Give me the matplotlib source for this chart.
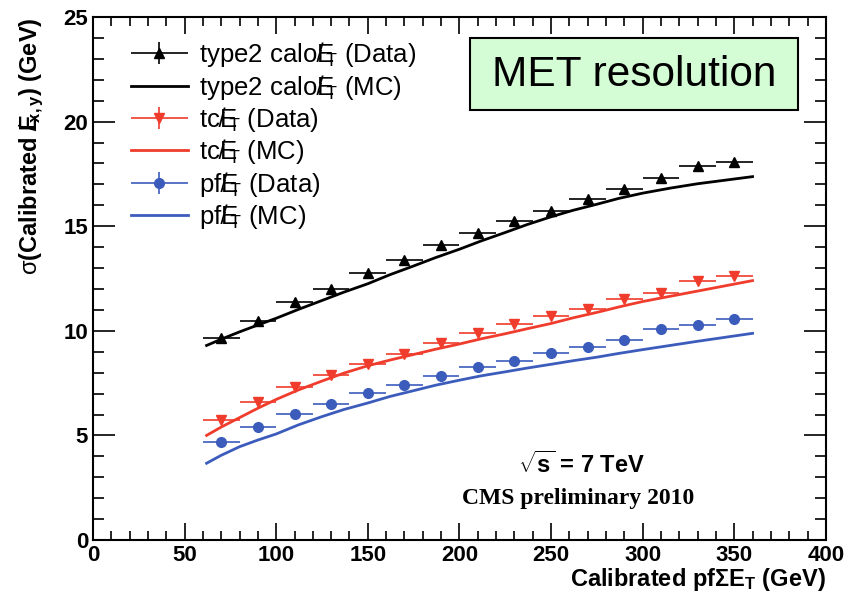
import numpy as np
import matplotlib.pyplot as plt
from matplotlib.patches import Rectangle
from matplotlib.legend_handler import HandlerErrorbar

# binned data points (bin centres, 20 GeV wide)
x_data = [70, 90, 110, 130, 150, 170, 190, 210, 230, 250, 270, 290, 310, 330, 350]
calo_data = [9.68, 10.45, 11.4, 12.02, 12.75, 13.4, 14.1, 14.67, 15.26, 15.74, 16.3, 16.76, 17.29, 17.89, 18.05]
tc_data = [5.74, 6.61, 7.33, 7.89, 8.41, 8.89, 9.43, 9.89, 10.33, 10.72, 11.03, 11.52, 11.82, 12.4, 12.63]
pf_data = [4.7, 5.39, 6.01, 6.5, 7.01, 7.41, 7.85, 8.25, 8.57, 8.95, 9.24, 9.56, 10.07, 10.26, 10.55]

# MC curves
x_mc = [62, 70, 80, 90, 100, 112, 125, 137, 150, 162, 175, 187, 200, 212, 225, 237, 250, 262,
        275, 287, 300, 315, 330, 345, 360]
calo_mc = [9.3, 9.6, 9.95, 10.28, 10.6, 11.02, 11.45, 11.85, 12.25, 12.68, 13.1, 13.5, 13.9, 14.3,
           14.7, 15.08, 15.45, 15.76, 16.05, 16.33, 16.58, 16.82, 17.03, 17.2, 17.37]
tc_mc = [5.0, 5.4, 5.85, 6.3, 6.72, 7.17, 7.6, 7.98, 8.33, 8.6, 8.87, 9.12, 9.37, 9.62, 9.86, 10.1,
         10.35, 10.62, 10.88, 11.14, 11.4, 11.65, 11.9, 12.15, 12.4]
pf_mc = [3.67, 4.05, 4.46, 4.78, 5.07, 5.5, 5.9, 6.24, 6.55, 6.86, 7.14, 7.4, 7.64, 7.85, 8.04, 8.22,
         8.4, 8.57, 8.74, 8.92, 9.1, 9.3, 9.5, 9.69, 9.88]

plt.rcParams['font.family'] = ['Liberation Sans', 'DejaVu Sans']
plt.rcParams['mathtext.fontset'] = 'custom'
plt.rcParams['mathtext.rm'] = 'Liberation Sans'
plt.rcParams['mathtext.it'] = 'Liberation Sans'
plt.rcParams['mathtext.bf'] = 'Liberation Sans:bold'

fig = plt.figure(figsize=(8.47, 5.95), dpi=100)
ax = fig.add_axes([0.1098, 0.0924, 0.8652, 0.879])

red = '#f03c2c'
blue = '#3c5cbc'
black = '#000000'

xe = 10
ye = 0.12
h1 = ax.errorbar(x_data, calo_data, xerr=xe, yerr=ye, fmt='^', color=black, ms=6.5, elinewidth=1.2, capsize=0)
l1, = ax.plot(x_mc, calo_mc, color=black, lw=2.0)
h2 = ax.errorbar(x_data, tc_data, xerr=xe, yerr=ye, fmt='v', color=red, ms=6.5, elinewidth=1.2, capsize=0)
l2, = ax.plot(x_mc, tc_mc, color=red, lw=2.0)
h3 = ax.errorbar(x_data, pf_data, xerr=xe, yerr=ye, fmt='o', color=blue, ms=7, elinewidth=1.2, capsize=0)
l3, = ax.plot(x_mc, pf_mc, color=blue, lw=2.0)

met = r'${E\!\!\!\!\not\;}_{\mathrm{T}}$'
labels = ['type2 calo' + met + ' (Data)', 'type2 calo' + met + ' (MC)',
          'tc' + met + ' (Data)', 'tc' + met + ' (MC)',
          'pf' + met + ' (Data)', 'pf' + met + ' (MC)']
eb = HandlerErrorbar(xerr_size=1.1, yerr_size=0.43)
leg = ax.legend([h1, l1, h2, l2, h3, l3], labels, loc='upper left',
                bbox_to_anchor=(0.038, 0.975), frameon=False, fontsize=18.5,
                handlelength=2.2, handletextpad=0.45, labelspacing=0.13, borderaxespad=0,
                handler_map={h1: eb, h2: eb, h3: eb})

ax.set_xlim(0, 400)
ax.set_ylim(0, 25)
ax.set_xticks([0, 50, 100, 150, 200, 250, 300, 350, 400])
ax.set_xticks(np.arange(0, 401, 10), minor=True)
ax.set_yticks([0, 5, 10, 15, 20, 25])
ax.set_yticks(np.arange(0, 26, 1), minor=True)
ax.tick_params(axis='both', which='both', direction='in', top=True, right=True, width=1.2)
ax.tick_params(axis='y', which='major', length=16)
ax.tick_params(axis='y', which='minor', length=8)
ax.tick_params(axis='x', which='major', length=12)
ax.tick_params(axis='x', which='minor', length=6.5)
ax.tick_params(axis='both', labelsize=16)
for t in ax.get_xticklabels() + ax.get_yticklabels():
    t.set_fontweight('bold')
for s in ax.spines.values():
    s.set_linewidth(1.5)

ax.set_xlabel(r'Calibrated pf$\mathbf{\Sigma E_T}$ (GeV)', fontsize=17, fontweight='bold', loc='right')
ax.set_ylabel(r'$\sigma$(Calibrated ${\mathbf{E}\!\!\!\!\not\;}_{\mathbf{x,y}}$) (GeV)', fontsize=17,
              fontweight='bold', loc='top')
ax.yaxis.set_label_coords(-0.064, 1.0)
ax.xaxis.set_label_coords(1.0, -0.05)

ax.add_patch(Rectangle((0.514, 0.822), 0.448, 0.138, transform=ax.transAxes,
                       facecolor='#d5fdd5', edgecolor='black', lw=1.5, zorder=3))
ax.text(0.738, 0.889, 'MET resolution', transform=ax.transAxes, fontsize=30.5,
        ha='center', va='center', zorder=4)
ax.text(0.667, 0.144, r'$\mathbf{\sqrt{s}}$ = 7 TeV', transform=ax.transAxes, fontsize=17,
        fontweight='bold', ha='center', va='center')
ax.text(0.662, 0.08, 'CMS preliminary 2010', transform=ax.transAxes, fontsize=17,
        fontweight='bold', family='Liberation Serif', ha='center', va='center')

fig.savefig('out.png', dpi=100)
